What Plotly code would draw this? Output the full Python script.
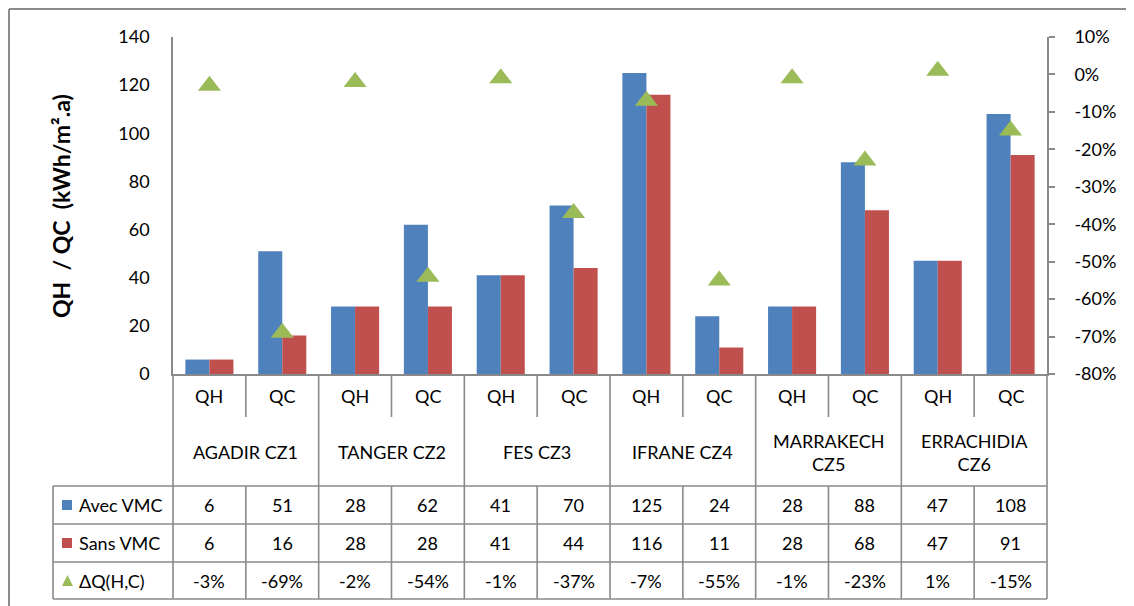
import plotly.graph_objects as go

# ---------------- data ----------------
cities = ["AGADIR CZ1", "TANGER CZ2", "FES CZ3", "IFRANE CZ4", "MARRAKECH<br>CZ5", "ERRACHIDIA<br>CZ6"]
subs = ["QH", "QC"]
avec_vmc = [6, 51, 28, 62, 41, 70, 125, 24, 28, 88, 47, 108]
sans_vmc = [6, 16, 28, 28, 41, 44, 116, 11, 28, 68, 47, 91]
delta_pct = [-3, -69, -2, -54, -1, -37, -7, -55, -1, -23, 1, -15]
series_names = ["Avec VMC", "Sans VMC", "ΔQ(H,C)"]
y_ticks_left = [0, 20, 40, 60, 80, 100, 120, 140]
y_ticks_right_pct = [10, 0, -10, -20, -30, -40, -50, -60, -70, -80]

# ---------------- styling / layout helpers ----------------
OFF = 8                      # page body margin
W, H = 1134 - OFF, 606 - OFF  # figure size
L, R, T, B = 173, 1047, 37, 374  # plot area in screen pixels
BLUE, RED, GREEN = "#4F81BD", "#C0504D", "#9BBB59"
GRID = "#8A8A8A"
FONT = "Lato"
FS = 18

n = len(avec_vmc)
xs = list(range(n))


def px(x):
    return (x - L) / (R - L)


def py(y):
    return (B - y) / (B - T)


def col_edge(i):
    return i / n


fig = go.Figure()
fig.add_trace(go.Bar(x=xs, y=avec_vmc, name=series_names[0], marker_color=BLUE,
                     marker_line_width=0, yaxis="y"))
fig.add_trace(go.Bar(x=xs, y=sans_vmc, name=series_names[1], marker_color=RED,
                     marker_line_width=0, yaxis="y"))
fig.add_trace(go.Scatter(x=xs, y=[d / 100 for d in delta_pct], name=series_names[2], mode="markers",
                         marker=dict(symbol="triangle-up", size=20, color=GREEN), yaxis="y2"))

shapes = []
annotations = []


def line(x0, y0, x1, y1, color=GRID, width=1.6):
    shapes.append(dict(type="line", xref="paper", yref="paper", x0=x0, y0=y0, x1=x1, y1=y1,
                       line=dict(color=color, width=width)))


# outer frame
line(px(OFF + 1), py(OFF + 1), px(OFF + W), py(OFF + 1), color="#8C8C8C", width=2)
line(px(OFF + 1), py(OFF + 1), px(OFF + 1), py(OFF + H), color="#8C8C8C", width=2)

# table lines
row_y = [486, 524, 562, 599]
for y in row_y:
    line(px(53), py(y), 1, py(y))
line(px(53), py(486), px(53), py(599))
for i in range(n + 1):
    if i % 2 == 0:
        line(col_edge(i), 0, col_edge(i), py(599))
    else:
        line(col_edge(i), 0, col_edge(i), py(417))
        line(col_edge(i), py(486), col_edge(i), py(599))


def text(x, y, s, size=FS, xanchor="center", **kw):
    annotations.append(dict(xref="paper", yref="paper", x=x, y=y, text=s, showarrow=False,
                            xanchor=xanchor, yanchor="middle",
                            font=dict(family=FONT, size=size, color="black"), **kw))


# QH / QC row and city row
for i in range(n):
    cx = (i + 0.5) / n
    text(cx, py(396), subs[i % 2])
for k, c in enumerate(cities):
    cx = (2 * k + 1) / n
    text(cx, py(452), c)

# value rows
rows = [
    [str(v) for v in avec_vmc],
    [str(v) for v in sans_vmc],
    [f"{d}%" for d in delta_pct],
]
row_centers = [505, 543, 581]
for r, vals in enumerate(rows):
    for i, v in enumerate(vals):
        text((i + 0.5) / n, py(row_centers[r]), v)

# legend keys inside table
for r, (name, col) in enumerate(zip(series_names, [BLUE, RED, GREEN])):
    yc = row_centers[r]
    if r < 2:
        shapes.append(dict(type="rect", xref="paper", yref="paper", x0=px(62), x1=px(72),
                           y0=py(yc - 5), y1=py(yc + 5), fillcolor=col, line=dict(width=0)))
    else:
        shapes.append(dict(type="path", xref="paper", yref="paper",
                           path=f"M {px(62)},{py(yc + 5)} L {px(73)},{py(yc + 5)} L {px(67.5)},{py(yc - 6)} Z",
                           fillcolor=col, line=dict(width=0)))
    text(px(77), py(yc), name, xanchor="left")

# y-axis title
NB = "\u00a0"
text(px(61), py(206), f"<b>QH{NB} /{NB}QC{NB} (kWh/m².a)</b>", size=23, textangle=-90)

fig.update_layout(
    width=W, height=H,
    margin=dict(l=L - OFF, r=(OFF + W) - R, t=T - OFF, b=(OFF + H) - B, autoexpand=False),
    paper_bgcolor="white", plot_bgcolor="white",
    barmode="group", bargap=0.34, bargroupgap=0,
    showlegend=False,
    font=dict(family=FONT, size=FS, color="black"),
    xaxis=dict(range=[-0.5, n - 0.5], showticklabels=False, ticks="", showgrid=False,
               zeroline=False, showline=True, linecolor=GRID, linewidth=1.6, fixedrange=True),
    yaxis=dict(range=[0, 140], tickvals=y_ticks_left, ticks="", showgrid=False, zeroline=False,
               showline=True, linecolor=GRID, linewidth=1.6, ticklabelstandoff=18,
               tickfont=dict(family=FONT, size=FS)),
    yaxis2=dict(overlaying="y", side="right", range=[-0.8, 0.1],
                tickvals=[v / 100 for v in y_ticks_right_pct],
                ticktext=[f"{v}%" for v in y_ticks_right_pct],
                ticks="outside", ticklen=6, tickcolor=GRID, tickwidth=1.6,
                showgrid=False, zeroline=False, showline=True, linecolor=GRID, linewidth=1.6,
                ticklabelstandoff=16, tickfont=dict(family=FONT, size=FS)),
    shapes=shapes, annotations=annotations,
)

fig.write_html("out.html")
